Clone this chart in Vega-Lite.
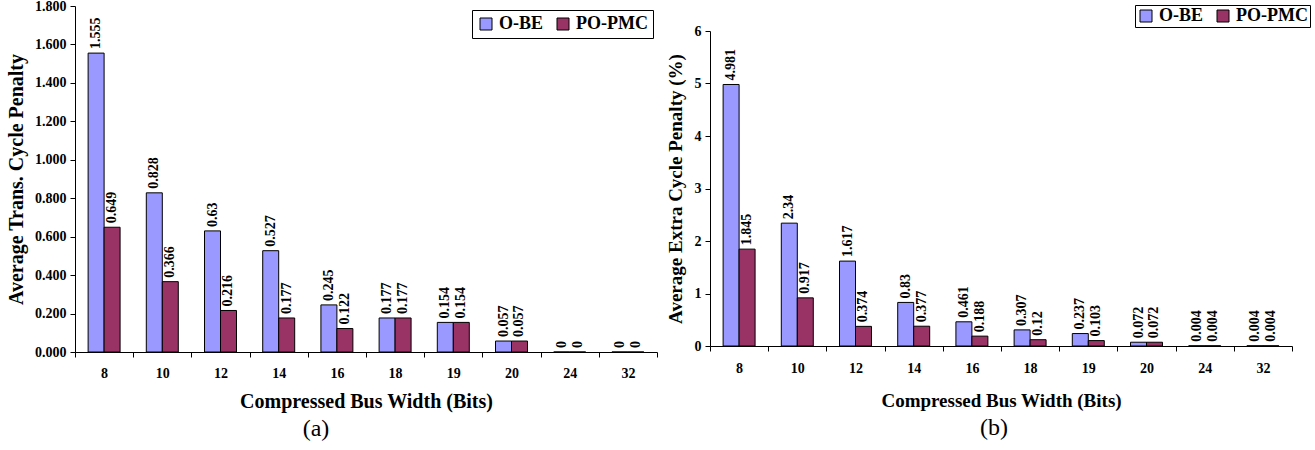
{
  "$schema": "https://vega.github.io/schema/vega-lite/v6.json",
  "padding": {"left": 6, "top": -1, "right": 0, "bottom": 0},
  "background": "white",
  "config": {
    "view": {"stroke": null},
    "font": "Liberation Serif",
    "axis": {
      "labelFont": "Liberation Serif",
      "labelFontWeight": "bold",
      "labelFontSize": 14,
      "labelColor": "black",
      "titleFont": "Liberation Serif",
      "titleFontWeight": "bold",
      "titleColor": "black",
      "domainColor": "black",
      "tickColor": "black",
      "tickSize": 5,
      "grid": false
    }
  },
  "datasets": {
    "a": [
      {"bits": 8, "series": "O-BE", "value": 1.555},
      {"bits": 8, "series": "PO-PMC", "value": 0.649},
      {"bits": 10, "series": "O-BE", "value": 0.828},
      {"bits": 10, "series": "PO-PMC", "value": 0.366},
      {"bits": 12, "series": "O-BE", "value": 0.63},
      {"bits": 12, "series": "PO-PMC", "value": 0.216},
      {"bits": 14, "series": "O-BE", "value": 0.527},
      {"bits": 14, "series": "PO-PMC", "value": 0.177},
      {"bits": 16, "series": "O-BE", "value": 0.245},
      {"bits": 16, "series": "PO-PMC", "value": 0.122},
      {"bits": 18, "series": "O-BE", "value": 0.177},
      {"bits": 18, "series": "PO-PMC", "value": 0.177},
      {"bits": 19, "series": "O-BE", "value": 0.154},
      {"bits": 19, "series": "PO-PMC", "value": 0.154},
      {"bits": 20, "series": "O-BE", "value": 0.057},
      {"bits": 20, "series": "PO-PMC", "value": 0.057},
      {"bits": 24, "series": "O-BE", "value": 0},
      {"bits": 24, "series": "PO-PMC", "value": 0},
      {"bits": 32, "series": "O-BE", "value": 0},
      {"bits": 32, "series": "PO-PMC", "value": 0}
    ],
    "b": [
      {"bits": 8, "series": "O-BE", "value": 4.981},
      {"bits": 8, "series": "PO-PMC", "value": 1.845},
      {"bits": 10, "series": "O-BE", "value": 2.34},
      {"bits": 10, "series": "PO-PMC", "value": 0.917},
      {"bits": 12, "series": "O-BE", "value": 1.617},
      {"bits": 12, "series": "PO-PMC", "value": 0.374},
      {"bits": 14, "series": "O-BE", "value": 0.83},
      {"bits": 14, "series": "PO-PMC", "value": 0.377},
      {"bits": 16, "series": "O-BE", "value": 0.461},
      {"bits": 16, "series": "PO-PMC", "value": 0.188},
      {"bits": 18, "series": "O-BE", "value": 0.307},
      {"bits": 18, "series": "PO-PMC", "value": 0.12},
      {"bits": 19, "series": "O-BE", "value": 0.237},
      {"bits": 19, "series": "PO-PMC", "value": 0.103},
      {"bits": 20, "series": "O-BE", "value": 0.072},
      {"bits": 20, "series": "PO-PMC", "value": 0.072},
      {"bits": 24, "series": "O-BE", "value": 0.004},
      {"bits": 24, "series": "PO-PMC", "value": 0.004},
      {"bits": 32, "series": "O-BE", "value": 0.004},
      {"bits": 32, "series": "PO-PMC", "value": 0.004}
    ]
  },
  "spacing": 8,
  "resolve": {
    "scale": {"color": "independent", "x": "independent", "y": "independent"},
    "legend": {"color": "independent"}
  },
  "hconcat": [
    {
      "width": 582,
      "height": 346,
      "data": {"name": "a"},
      "title": {"text": "(a)", "orient": "bottom", "font": "Liberation Serif", "fontWeight": "normal", "fontSize": 24, "color": "black", "anchor": "middle", "frame": "group", "dx": -50, "offset": 6},
      "encoding": {
        "x": {
          "field": "bits", "type": "ordinal",
          "scale": {"paddingInner": 0, "paddingOuter": 0},
          "axis": {"title": "Compressed Bus Width (Bits)", "labelAngle": 0, "tickBand": "extent", "labelPadding": 9, "titleFontSize": 20, "titlePadding": 11}
        },
        "xOffset": {"field": "series", "type": "nominal", "scale": {"paddingOuter": 0.82}},
        "y": {
          "field": "value", "type": "quantitative",
          "scale": {"domain": [0, 1.8], "nice": false},
          "axis": {"title": "Average Trans. Cycle Penalty", "values": [0, 0.2, 0.4, 0.6, 0.8, 1.0, 1.2, 1.4, 1.6, 1.8], "format": ".3f", "labelPadding": 4, "titleFontSize": 20, "titlePadding": 8}
        }
      },
      "layer": [
        {
          "mark": {"type": "bar", "stroke": "black", "strokeWidth": 1},
          "encoding": {
            "color": {
              "field": "series", "type": "nominal",
              "scale": {"domain": ["O-BE", "PO-PMC"], "range": ["#9999FF", "#993366"]},
              "legend": {"orient": "none", "legendX": 397, "legendY": 4, "direction": "horizontal", "title": null, "strokeColor": "black", "fillColor": "white", "padding": 5, "symbolType": "square", "symbolSize": 144, "symbolStrokeColor": "black", "symbolStrokeWidth": 1, "labelFont": "Liberation Serif", "labelFontWeight": "bold", "labelFontSize": 18, "labelColor": "black", "labelOffset": 4, "columnPadding": 10}
            }
          }
        },
        {
          "mark": {"type": "text", "angle": 270, "align": "left", "baseline": "middle", "dx": 4, "font": "Liberation Serif", "fontSize": 14, "fontWeight": "bold", "color": "black"},
          "encoding": {"text": {"field": "value", "type": "nominal"}}
        }
      ]
    },
    {
      "spacing": 0,
      "vconcat": [
        {
          "width": 582,
          "height": 18,
          "data": {"values": [{}]},
          "mark": {"type": "text", "text": ""},
          "encoding": {}
        },
        {
          "width": 582,
          "height": 315,
          "data": {"name": "b"},
          "title": {"text": "(b)", "orient": "bottom", "font": "Liberation Serif", "fontWeight": "normal", "fontSize": 24, "color": "black", "anchor": "middle", "frame": "group", "dx": -7, "offset": 6},
          "encoding": {
            "x": {
              "field": "bits", "type": "ordinal",
              "scale": {"paddingInner": 0, "paddingOuter": 0},
              "axis": {"title": "Compressed Bus Width (Bits)", "labelAngle": 0, "tickBand": "extent", "labelPadding": 10, "titleFontSize": 19, "titlePadding": 16}
            },
            "xOffset": {"field": "series", "type": "nominal", "scale": {"paddingOuter": 0.82}},
            "y": {
              "field": "value", "type": "quantitative",
              "scale": {"domain": [0, 6], "nice": false},
              "axis": {"title": "Average Extra Cycle Penalty (%)", "values": [0, 1, 2, 3, 4, 5, 6], "format": "d", "labelPadding": 4, "titleFontSize": 19, "titlePadding": 9}
            }
          },
          "layer": [
            {
              "mark": {"type": "bar", "stroke": "black", "strokeWidth": 1},
              "encoding": {
                "color": {
                  "field": "series", "type": "nominal",
                  "scale": {"domain": ["O-BE", "PO-PMC"], "range": ["#9999FF", "#993366"]},
                  "legend": {"orient": "none", "legendX": 425, "legendY": -1, "direction": "horizontal", "title": null, "strokeColor": "black", "fillColor": "white", "padding": 2, "symbolType": "square", "symbolSize": 144, "symbolStrokeColor": "black", "symbolStrokeWidth": 1, "labelFont": "Liberation Serif", "labelFontWeight": "bold", "labelFontSize": 18, "labelColor": "black", "labelOffset": 4, "columnPadding": 10}
                }
              }
            },
            {
              "mark": {"type": "text", "angle": 270, "align": "left", "baseline": "middle", "dx": 4, "font": "Liberation Serif", "fontSize": 14, "fontWeight": "bold", "color": "black"},
              "encoding": {"text": {"field": "value", "type": "nominal"}}
            }
          ]
        }
      ]
    }
  ]
}
